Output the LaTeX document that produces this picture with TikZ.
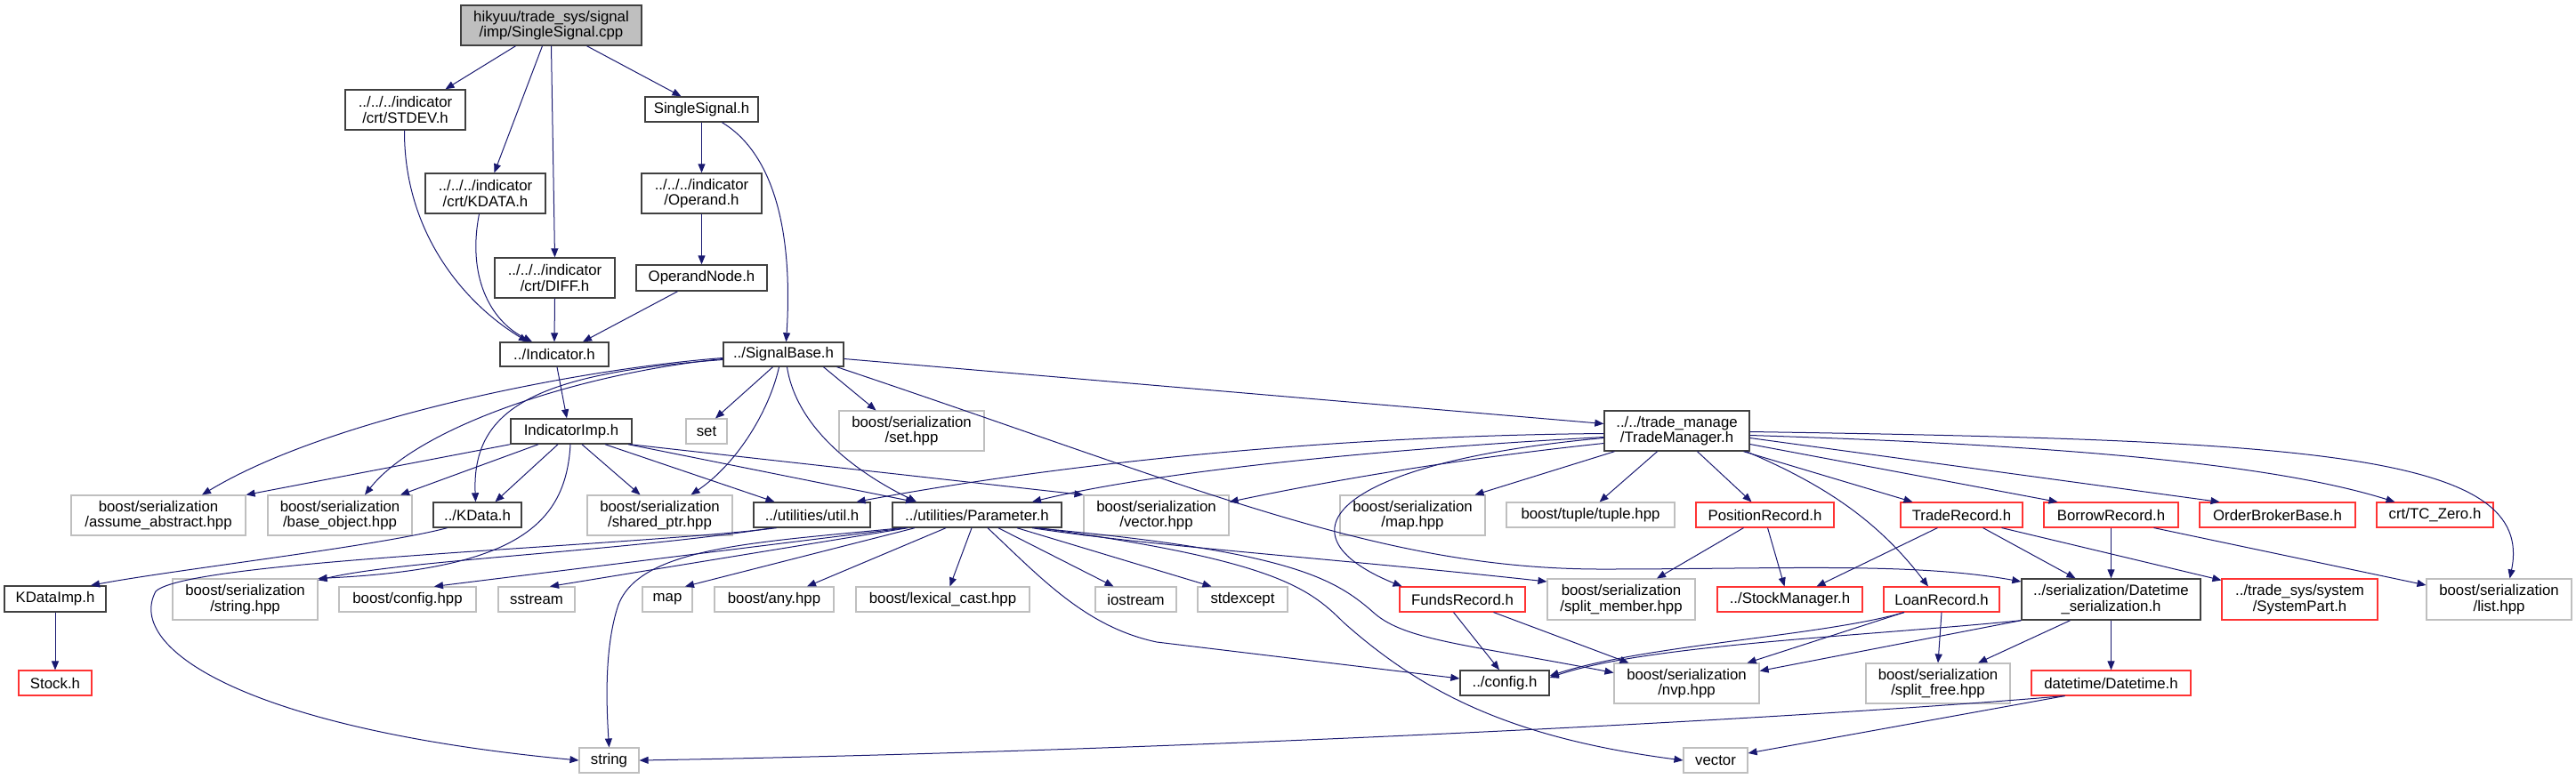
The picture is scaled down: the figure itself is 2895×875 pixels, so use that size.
\documentclass[tikz,border=0pt]{standalone}
\usepackage{fontspec}
\setmainfont{Liberation Sans}
\usetikzlibrary{arrows.meta,calc}
\definecolor{edgec}{HTML}{191970}
\definecolor{grayb}{HTML}{BFBFBF}
\definecolor{nodeb}{HTML}{404040}
\definecolor{redb}{HTML}{FF3333}
\newcommand\nd[7]{\node[#2,minimum width=#5*0.5pt,minimum height=#6*0.5pt] (#1) at (#3,#4) {#7};}
\begin{document}
\begin{tikzpicture}[x=0.5pt,y=-0.5pt,
  base/.style={rectangle, inner sep=0pt, font=\fontsize{8.4pt}{8.85pt}\selectfont, align=center, line width=0.55pt},
  blk/.style={base, draw=nodeb, line width=0.7pt},
  rootbox/.style={base, draw=nodeb, fill=grayb, line width=0.7pt},
  gry/.style={base, draw=grayb},
  redbox/.style={base, draw=redb},
  e/.style={draw=edgec, line width=0.5pt, -{Triangle[length=5pt,width=4pt]}}
]
\useasboundingbox (0,0) rectangle (2895,875);
% nodes
\nd{root}{rootbox}{619.5}{28.5}{203}{45}{hikyuu/trade\_sys/signal\\/imp/SingleSignal.cpp}
\nd{stdev}{blk}{455.5}{123.5}{135}{45}{../../../indicator\\/crt/STDEV.h}
\nd{kdatacrt}{blk}{545.5}{217.5}{135}{45}{../../../indicator\\/crt/KDATA.h}
\nd{diff}{blk}{623.5}{312.5}{135}{45}{../../../indicator\\/crt/DIFF.h}
\nd{ssh}{blk}{788.5}{123}{127}{28}{SingleSignal.h}
\nd{operand}{blk}{788.5}{217.5}{135}{45}{../../../indicator\\/Operand.h}
\nd{opnode}{blk}{788.5}{312.5}{147}{29}{OperandNode.h}
\nd{ind}{blk}{623}{398.5}{122}{27}{../Indicator.h}
\nd{sigbase}{blk}{880.5}{398.5}{135}{27}{../SignalBase.h}
\nd{indimp}{blk}{642}{485}{136}{28}{IndicatorImp.h}
\nd{set}{gry}{794}{485}{46}{28}{set}
\nd{sethpp}{gry}{1024.5}{484.5}{163}{45}{boost/serialization\\/set.hpp}
\nd{tm}{blk}{1884.5}{484.5}{163}{45}{../../trade\_manage\\/TradeManager.h}
\nd{assume}{gry}{178}{579.5}{196}{45}{boost/serialization\\/assume\_abstract.hpp}
\nd{baseobj}{gry}{382}{579.5}{162}{45}{boost/serialization\\/base\_object.hpp}
\nd{kdata}{blk}{536.5}{579}{99}{28}{../KData.h}
\nd{sharedptr}{gry}{741.5}{579.5}{163}{45}{boost/serialization\\/shared\_ptr.hpp}
\nd{util}{blk}{912.5}{579}{131}{28}{../utilities/util.h}
\nd{param}{blk}{1098}{579}{190}{28}{../utilities/Parameter.h}
\nd{vectorhpp}{gry}{1299.5}{579.5}{163}{45}{boost/serialization\\/vector.hpp}
\nd{maphpp}{gry}{1587.5}{579.5}{163}{45}{boost/serialization\\/map.hpp}
\nd{tuple}{gry}{1787.5}{579}{189}{28}{boost/tuple/tuple.hpp}
\nd{posrec}{redbox}{1983.5}{579}{155}{28}{PositionRecord.h}
\nd{traderec}{redbox}{2204.5}{579}{137}{28}{TradeRecord.h}
\nd{borrow}{redbox}{2372.5}{579}{151}{28}{BorrowRecord.h}
\nd{obb}{redbox}{2559.5}{579}{175}{28}{OrderBrokerBase.h}
\nd{tczero}{redbox}{2736.5}{579}{131}{28}{crt/TC\_Zero.h}
\nd{kdataimp}{blk}{62}{673.5}{114}{29}{KDataImp.h}
\nd{stringhpp}{gry}{275.5}{674}{163}{46}{boost/serialization\\/string.hpp}
\nd{confighpp}{gry}{458}{674}{154}{28}{boost/config.hpp}
\nd{sstream}{gry}{603}{674}{86}{28}{sstream}
\nd{map}{gry}{750}{674}{56}{28}{map}
\nd{any}{gry}{870}{674}{134}{28}{boost/any.hpp}
\nd{lexical}{gry}{1059.5}{674}{195}{28}{boost/lexical\_cast.hpp}
\nd{iostream}{gry}{1276.5}{674}{91}{28}{iostream}
\nd{stdexcept}{gry}{1396.5}{674}{101}{28}{stdexcept}
\nd{funds}{redbox}{1643.5}{674}{141}{28}{FundsRecord.h}
\nd{splitmember}{gry}{1822}{674}{166}{46}{boost/serialization\\/split\_member.hpp}
\nd{stockmgr}{redbox}{2011.5}{674}{163}{28}{../StockManager.h}
\nd{loan}{redbox}{2182}{674}{130}{28}{LoanRecord.h}
\nd{dtser}{blk}{2372.5}{674}{201}{46}{../serialization/Datetime\\\_serialization.h}
\nd{syspart}{redbox}{2584.5}{674}{175}{46}{../trade\_sys/system\\/SystemPart.h}
\nd{list}{gry}{2808.5}{674}{163}{46}{boost/serialization\\/list.hpp}
\nd{stock}{redbox}{62}{768}{82}{28}{Stock.h}
\nd{configh}{blk}{1691}{768}{100}{28}{../config.h}
\nd{nvp}{gry}{1895.5}{768.5}{163}{45}{boost/serialization\\/nvp.hpp}
\nd{splitfree}{gry}{2178}{768.5}{162}{45}{boost/serialization\\/split\_free.hpp}
\nd{datetime}{redbox}{2372.5}{768}{179}{28}{datetime/Datetime.h}
\nd{string}{gry}{684.5}{855}{67}{28}{string}
\nd{vector}{gry}{1928}{855}{72}{28}{vector}
% edges
\draw[e] ($(root.south)+(-40,0)$) -- ($(stdev.north)+(45,0)$);
\draw[e] ($(root.south)+(-10,0)$) -- ($(kdatacrt.north)+(10,0)$);
\draw[e] (root.south) -- (diff.north);
\draw[e] ($(root.south)+(40,0)$) -- ($(ssh.north)+(-23,0)$);
\draw[e] ($(stdev.south)+(-1,0)$) .. controls (454,260) and (520,340) .. ($(ind.north)+(-30,0)$);
\draw[e] ($(kdatacrt.south)+(-7,0)$) .. controls (525,310) and (550,360) .. ($(ind.north)+(-25,0)$);
\draw[e] (diff.south) -- (ind.north);
\draw[e] ($(opnode.south)+(-27,0)$) -- ($(ind.north)+(32,0)$);
\draw[e] (ssh.south) -- (operand.north);
\draw[e] (operand.south) -- (opnode.north);
\draw[e] ($(ssh.south)+(23,0)$) .. controls (865,170) and (892,250) .. ($(sigbase.north)+(3,0)$);
\draw[e] ($(ind.south)+(3,0)$) -- ($(indimp.north)+(-5,0)$);
\draw[e] ($(sigbase.west)+(0,4)$) .. controls (650,415) and (370,470) .. ($(assume.north)+(49,0)$);
\draw[e] ($(sigbase.west)+(0,5)$) .. controls (650,420) and (470,480) .. ($(baseobj.north)+(28,0)$);
\draw[e] ($(sigbase.west)+(0,6)$) .. controls (600,420) and (530,460) .. ($(kdata.north)+(-2,0)$);
\draw[e] ($(sigbase.south)+(-12,0)$) -- ($(set.north)+(10,0)$);
\draw[e] ($(sigbase.south)+(-5,0)$) .. controls (865,460) and (830,520) .. ($(sharedptr.north)+(35,0)$);
\draw[e] ($(sigbase.south)+(4,0)$) .. controls (895,480) and (960,530) .. ($(param.north)+(-68,0)$);
\draw[e] ($(sigbase.south)+(45,0)$) -- ($(sethpp.north)+(-40,0)$);
\draw[e] ($(sigbase.east)+(0,5)$) -- ($(tm.west)+(0,-8)$);
\draw[e] ($(sigbase.south)+(60,0)$) .. controls (1350,550) and (1550,640) .. (1800,640) .. controls (2000,640) and (2150,632) .. ($(dtser.west)+(0,-20)$);
\draw[e] (indimp.south west) -- (assume.north east);
\draw[e] ($(indimp.south)+(-37,0)$) -- ($(baseobj.north)+(68,0)$);
\draw[e] ($(indimp.south)+(-15,0)$) -- ($(kdata.north)+(20,0)$);
\draw[e] ($(indimp.south)+(-1,0)$) .. controls (636,590) and (580,640) .. (stringhpp.north east);
\draw[e] ($(indimp.south)+(12,0)$) -- ($(sharedptr.north)+(-22,0)$);
\draw[e] ($(indimp.south)+(38,0)$) -- ($(util.north)+(-42,0)$);
\draw[e] ($(indimp.south)+(66,0)$) -- (vectorhpp.north west);
\draw[e] ($(indimp.south)+(64,0)$) -- ($(param.north)+(-70,0)$);
\draw[e] ($(kdata.south)+(-34,0)$) .. controls (420,615) and (200,640) .. ($(kdataimp.north)+(40,0)$);
\draw[e] (kdataimp.south) -- (stock.north);
\draw[e] ($(util.south)+(-40,0)$) .. controls (700,615) and (210,630) .. (175,665) .. controls (140,730) and (280,820) .. (string.west);
\draw[e] ($(util.south)+(-45,0)$) .. controls (700,620) and (450,630) .. ($(stringhpp.north east)+(0,2)$);
\draw[e] ($(param.south)+(-80,0)$) -- ($(confighpp.north)+(30,0)$);
\draw[e] ($(param.south)+(-78,0)$) -- ($(sstream.north)+(15,0)$);
\draw[e] ($(param.south)+(-70,0)$) -- ($(map.north)+(20,0)$);
\draw[e] ($(param.south)+(-35,0)$) -- ($(any.north)+(37,0)$);
\draw[e] ($(param.south)+(-6,0)$) -- ($(lexical.north)+(8,0)$);
\draw[e] ($(param.south)+(24,0)$) -- ($(iostream.north)+(-25,0)$);
\draw[e] ($(param.south)+(45,0)$) -- ($(stdexcept.north)+(-35,0)$);
\draw[e] ($(param.south)+(12,0)$) .. controls (1170,650) and (1220,705) .. (1300,722) -- ($(configh.west)+(0,-5)$);
\draw[e] ($(param.south)+(62,0)$) .. controls (1300,615) and (1500,628) .. ($(splitmember.west)+(0,-20)$);
\draw[e] ($(param.south)+(65,0)$) .. controls (1450,620) and (1500,650) .. (1545,690) .. controls (1580,720) and (1650,725) .. ($(nvp.west)+(0,-12)$);
\draw[e] ($(param.south)+(70,0)$) .. controls (1430,630) and (1470,660) .. (1510,700) .. controls (1600,780) and (1700,830) .. (vector.west);
\draw[e] ($(param.south)+(-85,0)$) .. controls (850,610) and (720,615) .. (695,680) .. controls (678,730) and (682,800) .. (string.north);
\draw[e] ($(tm.west)+(0,3)$) .. controls (1500,490) and (1200,520) .. ($(util.north)+(50,0)$);
\draw[e] ($(tm.west)+(0,7)$) .. controls (1550,505) and (1300,530) .. ($(param.north)+(62,0)$);
\draw[e] ($(tm.west)+(0,14)$) .. controls (1600,520) and (1450,550) .. ($(vectorhpp.north east)+(0,8)$);
\draw[e] ($(tm.west)+(0,8)$) .. controls (1500,520) and (1430,600) .. ($(funds.north)+(-68,0)$);
\draw[e] ($(tm.south)+(-70,0)$) -- ($(maphpp.north)+(70,0)$);
\draw[e] ($(tm.south)+(-22,0)$) -- ($(tuple.north)+(10,0)$);
\draw[e] ($(tm.south)+(23,0)$) -- ($(posrec.north)+(-15,0)$);
\draw[e] ($(tm.south)+(78,0)$) .. controls (2050,545) and (2110,585) .. ($(loan.north)+(-15,0)$);
\draw[e] ($(tm.south)+(75,0)$) -- ($(traderec.north)+(-55,0)$);
\draw[e] ($(tm.east)+(0,15)$) -- ($(borrow.north)+(-60,0)$);
\draw[e] ($(tm.east)+(0,8)$) -- ($(obb.north)+(-65,0)$);
\draw[e] ($(tm.east)+(0,5)$) .. controls (2300,500) and (2550,520) .. ($(tczero.north)+(-45,0)$);
\draw[e] ($(tm.east)+(0,1)$) .. controls (2600,495) and (2850,510) .. ($(list.north)+(12,0)$);
\draw[e] ($(posrec.south)+(-24,0)$) -- ($(splitmember.north)+(40,0)$);
\draw[e] ($(posrec.south)+(3,0)$) -- ($(stockmgr.north)+(-6,0)$);
\draw[e] ($(traderec.south)+(-27,0)$) -- ($(stockmgr.north)+(30,0)$);
\draw[e] ($(traderec.south)+(24,0)$) -- ($(dtser.north)+(-40,0)$);
\draw[e] ($(traderec.south)+(45,0)$) -- ($(syspart.north west)+(0,2)$);
\draw[e] (borrow.south) -- (dtser.north);
\draw[e] ($(borrow.south)+(48,0)$) -- ($(list.west)+(0,-16)$);
\draw[e] (loan.south) -- (splitfree.north);
\draw[e] ($(loan.south)+(-42,0)$) .. controls (2050,715) and (1850,725) .. ($(configh.east)+(0,-8)$);
\draw[e] ($(loan.south)+(-42,0)$) -- ($(nvp.north)+(68,0)$);
\draw[e] (dtser.south west) .. controls (2100,715) and (1850,725) .. ($(configh.east)+(0,-6)$);
\draw[e] (dtser.south west) -- ($(nvp.east)+(0,-14)$);
\draw[e] ($(dtser.south)+(-46,0)$) -- ($(splitfree.north)+(45,0)$);
\draw[e] (dtser.south) -- (datetime.north);
\draw[e] ($(datetime.south)+(-52,0)$) .. controls (2000,810) and (1300,845) .. (string.east);
\draw[e] ($(datetime.south)+(-52,0)$) -- ($(vector.east)+(0,-8)$);
\draw[e] ($(funds.south)+(-10,0)$) -- ($(configh.north)+(-6,0)$);
\draw[e] ($(funds.south)+(35,0)$) -- ($(nvp.north)+(-65,0)$);
\end{tikzpicture}
\end{document}
